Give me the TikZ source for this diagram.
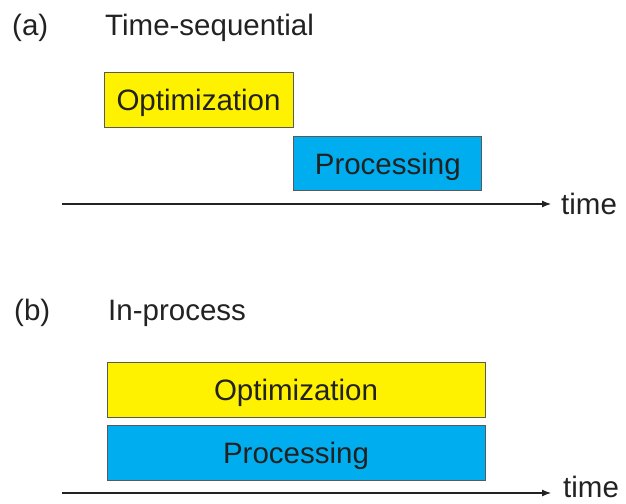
\documentclass[tikz,border=0pt]{standalone}
\usepackage{xcolor}
\usepackage{fontspec}
\setmainfont{Liberation Sans}
\usepackage{tikz}
\usetikzlibrary{arrows.meta, positioning}
\definecolor{optyellow}{HTML}{FFF200}
\definecolor{procblue}{HTML}{00AEEF}
\definecolor{inkgray}{HTML}{222222}
\tikzset{
    txt/.style={anchor=base west, inner sep=0pt, text=inkgray, font=\fontsize{29.5}{34}\selectfont},
    task/.style={rectangle, draw=black!65, line width=0.8pt, inner sep=0pt, minimum height=55pt, text height=21pt, text depth=0pt, text=inkgray, font=\fontsize{29.5}{34}\selectfont},
    opt/.style={task, fill=optyellow},
    proc/.style={task, fill=procblue},
    arrow/.style={-{Latex[length=9pt, width=7pt]}, line width=1.1pt, draw=inkgray}
}

\begin{document}
\begin{tikzpicture}[x=1pt, y=-1pt]
    \useasboundingbox (0,0) rectangle (626,503);
    % (a) time-sequential
    \node (tagA) [txt] at (12,35.5) {(a)};
    \node (titleA) [txt] at (105,35.5) {Time-sequential};
    \node (optA) [opt, minimum width=189pt] at (198.5,99.5) {Optimization};
    \node (procA) [proc, minimum width=188pt, minimum height=54pt, below right=9pt and 0pt of optA] {Processing};
    \coordinate (startA) at (62,204);
    \coordinate (endA) at (551,204);
    \draw[arrow] (startA) -- (endA);
    \node (timeA) [txt, anchor=west, right=10pt of endA] {time};

    % (b) in-process
    \node (tagB) [txt] at (14,320.5) {(b)};
    \node (titleB) [txt] at (108,320.5) {In-process};
    \node (optB) [opt, minimum width=378pt] at (296,389.5) {Optimization};
    \node (procB) [proc, minimum width=378pt, below=8pt of optB] {Processing};
    \coordinate (startB) at (62,493);
    \coordinate (endB) at (551,493);
    \draw[arrow] (startB) -- (endB);
    \node (timeB) [txt] at (563,497) {time};
\end{tikzpicture}
\end{document}
